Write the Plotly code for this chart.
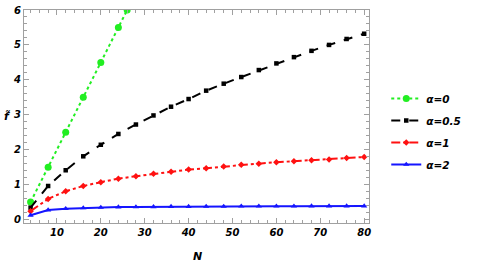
import plotly.graph_objects as go

N = [4, 8, 12, 16, 20, 24, 28, 32, 36, 40, 44, 48, 52, 56, 60, 64, 68, 72, 76, 80]
N_a0 = [4, 8, 12, 16, 20, 24, 26]
f_a0 = [0.5, 1.5, 2.5, 3.5, 4.5, 5.5, 6.0]
f_a05 = [0.34, 0.96, 1.41, 1.81, 2.14, 2.45, 2.72, 2.98, 3.23, 3.45, 3.69, 3.89,
         4.08, 4.28, 4.47, 4.65, 4.83, 5.00, 5.17, 5.32]
f_a1 = [0.24, 0.59, 0.81, 0.96, 1.07, 1.17, 1.24, 1.31, 1.37, 1.43, 1.47, 1.52,
        1.57, 1.60, 1.64, 1.67, 1.70, 1.72, 1.76, 1.79]
f_a2 = [0.12, 0.27, 0.31, 0.33, 0.345, 0.355, 0.36, 0.365, 0.37, 0.37, 0.375, 0.375,
        0.38, 0.38, 0.38, 0.38, 0.385, 0.385, 0.385, 0.385]
names = ["α=0", "α=0.5", "α=1", "α=2"]
x_ticks = [10, 20, 30, 40, 50, 60, 70, 80]
y_ticks = [0, 1, 2, 3, 4, 5, 6]

FONT = "DejaVu Sans"
bi = dict(family=FONT, size=10, color="black", style="italic", weight="bold")
bi_leg = dict(family=FONT, size=10.5, color="black", style="italic", weight="bold")
bi_lab = dict(family=FONT, size=11, color="black", style="italic", weight="bold")

fig = go.Figure()
fig.add_trace(go.Scatter(x=N_a0, y=f_a0, name=names[0], mode="lines+markers", legendgroup="g0",
                         line=dict(color="#22ee22", width=2, dash="dot"),
                         marker=dict(symbol="circle", size=7, color="#22ee22")))
fig.add_trace(go.Scatter(x=N, y=f_a05, name=names[1], mode="lines+markers", legendgroup="g1",
                         line=dict(color="black", width=2, dash="dash"),
                         marker=dict(symbol="square", size=4.5, color="black")))
fig.add_trace(go.Scatter(x=N, y=f_a1, name=names[2], mode="lines+markers", legendgroup="g2",
                         line=dict(color="#ff1111", width=2, dash="dashdot"),
                         marker=dict(symbol="diamond", size=5, color="#ff1111")))
fig.add_trace(go.Scatter(x=N, y=f_a2, name=names[3], mode="lines+markers", legendgroup="g3",
                         line=dict(color="#1515ff", width=2, dash="solid"),
                         marker=dict(symbol="triangle-up", size=5.5, color="#1515ff")))

axcommon = dict(showline=True, linecolor="#a0a0a0", linewidth=1, mirror="allticks",
                ticks="inside", ticklen=5, tickcolor="#a0a0a0", showgrid=False,
                zeroline=False, tickfont=bi, automargin=False)
fig.update_xaxes(range=[2.5, 81.1], tickvals=x_ticks, ticktext=[str(v) for v in x_ticks],
                 minor=dict(dtick=2, tick0=0, ticks="inside", ticklen=3, tickcolor="#a0a0a0"),
                 **axcommon)
fig.update_yaxes(range=[-0.1, 6.0], tickvals=y_ticks, ticktext=[str(v) for v in y_ticks],
                 minor=dict(dtick=0.2, tick0=0, ticks="inside", ticklen=3, tickcolor="#a0a0a0"),
                 **axcommon)

fig.add_annotation(text="N", x=0.502, y=-0.155, xref="paper", yref="paper",
                   showarrow=False, font=bi_lab, xanchor="center", yanchor="middle")
fig.add_annotation(text="f\u0303", x=-0.05, y=0.50, xref="paper", yref="paper",
                   showarrow=False, font=bi_lab, xanchor="center", yanchor="middle")

fig.update_layout(width=480, height=264, margin=dict(l=24, r=111, t=10, b=41, autoexpand=False),
                  plot_bgcolor="white", paper_bgcolor="white",
                  legend=dict(x=1.05, y=0.43, xanchor="left", yanchor="middle",
                              font=bi_leg, bgcolor="rgba(0,0,0,0)", tracegroupgap=3,
                              itemsizing="trace"),
                  showlegend=True)

fig.write_html("out.html", config={"displayModeBar": False},
               post_script="document.body.style.margin='0';")
